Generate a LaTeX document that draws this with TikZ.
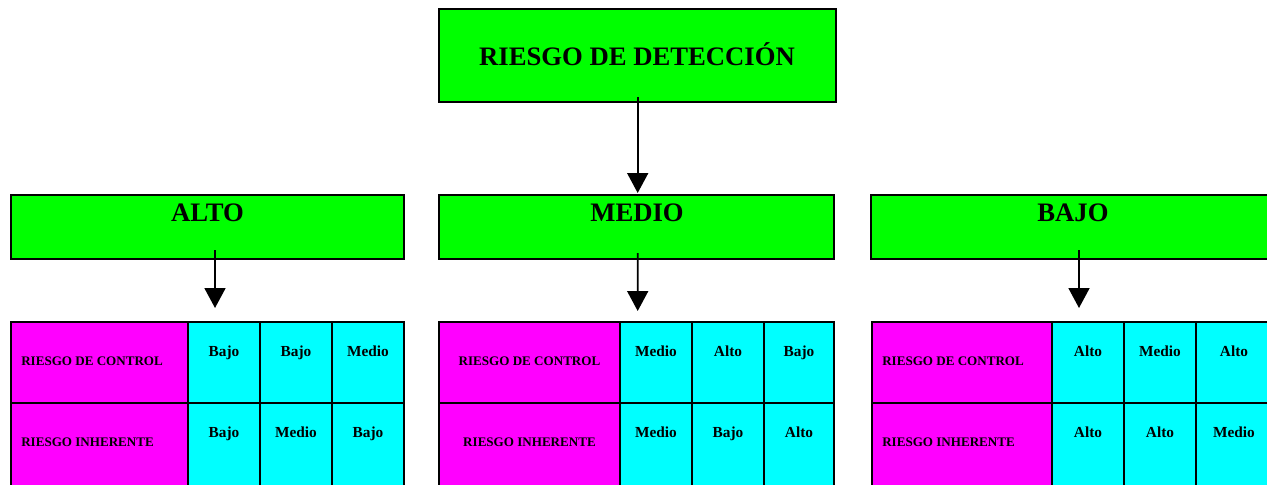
\documentclass[tikz,border=0pt]{standalone}
\usepackage{fontspec}
\setmainfont{Liberation Serif}
\usetikzlibrary{arrows.meta}
\definecolor{vgreen}{RGB}{0,255,0}
\definecolor{vmag}{RGB}{255,0,255}
\definecolor{vcyan}{RGB}{0,255,255}
\newcommand\mkcell[6]{\node[#1, minimum width={(#5-#3)*0.75pt}, minimum height={(#6-#4)*0.75pt}] (#2) at ({(#3+#5)/2},{(#4+#6)/2}) {};}
\newcommand\mktable[6]{%
  \mkcell{lab}{#1-l1}{#2}{322}{#3}{403}
  \mkcell{lab}{#1-l2}{#2}{403}{#3}{490}
  \mkcell{val}{#1-v11}{#3}{322}{#4}{403}
  \mkcell{val}{#1-v12}{#4}{322}{#5}{403}
  \mkcell{val}{#1-v13}{#5}{322}{#6}{403}
  \mkcell{val}{#1-v21}{#3}{403}{#4}{490}
  \mkcell{val}{#1-v22}{#4}{403}{#5}{490}
  \mkcell{val}{#1-v23}{#5}{403}{#6}{490}
}
\newcommand\mkvals[7]{%
  \node[mid] at ([shift={(0,34)}]#1-v11.north) {#2};
  \node[mid] at ([shift={(0,34)}]#1-v12.north) {#3};
  \node[mid] at ([shift={(0,34)}]#1-v13.north) {#4};
  \node[mid] at ([shift={(0,34)}]#1-v21.north) {#5};
  \node[mid] at ([shift={(0,34)}]#1-v22.north) {#6};
  \node[mid] at ([shift={(0,34)}]#1-v23.north) {#7};
}
\begin{document}
\begin{tikzpicture}[x=0.75pt,y=-0.75pt,
  box/.style={draw, line width=1.5pt, rectangle, inner sep=0pt, outer sep=0pt},
  hdr/.style={box, fill=vgreen},
  lab/.style={box, fill=vmag},
  val/.style={box, fill=vcyan},
  big/.style={font=\fontsize{20}{24}\selectfont\bfseries, anchor=base, inner sep=0pt},
  small/.style={font=\fontsize{9.8}{12}\selectfont\bfseries, inner sep=0pt},
  mid/.style={font=\fontsize{11.5}{14}\selectfont\bfseries, anchor=base, inner sep=0pt},
  arr/.style={line width=1.4pt, -{Triangle[width=15.75pt,length=15pt]}}]
\useasboundingbox (0,0) rectangle (1267,485);
\clip (0,0) rectangle (1267,485);

% top box
\mkcell{hdr}{top}{439}{9}{836}{102}
\node[big] (ttop) at ([shift={(-0.5,9.5)}]top.center) {RIESGO DE DETECCIÓN};

% headers
\mkcell{hdr}{alto}{11}{195}{404}{259}
\mkcell{hdr}{medio}{439}{195}{834}{259}
\mkcell{hdr}{bajo}{871}{195}{1272}{259}
\node[big] (talto) at ([shift={(0,26)}]alto.north) {ALTO};
\node[big] (tmedio) at ([shift={(0.5,26)}]medio.north) {MEDIO};
\node[big] (tbajo) at ([shift={(1.5,26)}]bajo.north) {BAJO};

% tables
\mktable{a}{11}{188}{260}{332}{404}
\mktable{m}{439}{620}{692}{764}{834}
\mktable{b}{872}{1052}{1124}{1196}{1272}

% labels
\node[small, anchor=base west] at ([shift={(10,43)}]a-l1.north west) {RIESGO DE CONTROL};
\node[small, anchor=base west] at ([shift={(10,43)}]a-l2.north west) {RIESGO INHERENTE};
\node[small, anchor=base] at ([shift={(0,43)}]m-l1.north) {RIESGO DE CONTROL};
\node[small, anchor=base] at ([shift={(0,43)}]m-l2.north) {RIESGO INHERENTE};
\node[small, anchor=base west] at ([shift={(10,43)}]b-l1.north west) {RIESGO DE CONTROL};
\node[small, anchor=base west] at ([shift={(10,43)}]b-l2.north west) {RIESGO INHERENTE};

% values
\mkvals{a}{Bajo}{Bajo}{Medio}{Bajo}{Medio}{Bajo}
\mkvals{m}{Medio}{Alto}{Bajo}{Medio}{Bajo}{Alto}
\mkvals{b}{Alto}{Medio}{Alto}{Alto}{Alto}{Medio}

% arrows
\draw[arr] ([shift={(0.2,-5)}]top.south) -- ([shift={(1.2,-2)}]medio.north);
\draw[arr] ([shift={(7.5,-9)}]alto.south) -- ([shift={(-9,-14)}]a-v11.north);
\draw[arr] ([shift={(1.2,-6)}]medio.south) -- ([shift={(-18.3,-11)}]m-v11.north);
\draw[arr] ([shift={(7.5,-9)}]bajo.south) -- ([shift={(-9,-14)}]b-v11.north);
\end{tikzpicture}
\end{document}
